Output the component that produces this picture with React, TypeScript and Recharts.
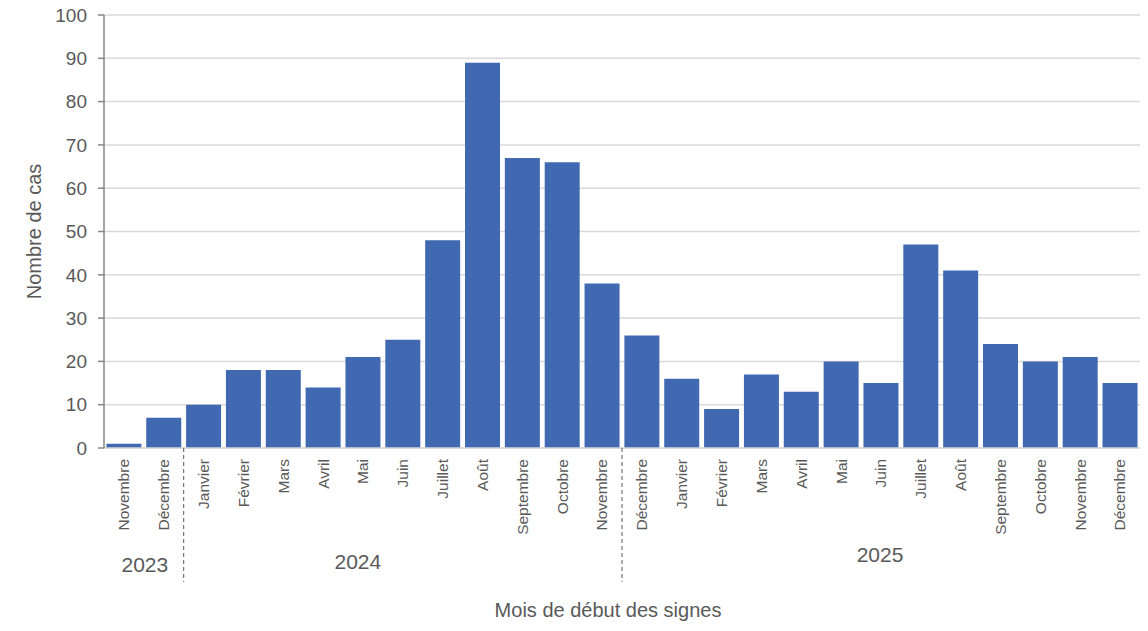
import React from "react";
import {
  BarChart,
  Bar,
  XAxis,
  YAxis,
  CartesianGrid,
  Label,
} from "recharts";

const mois = [
  "Novembre", "Décembre",
  "Janvier", "Février", "Mars", "Avril", "Mai", "Juin", "Juillet", "Août",
  "Septembre", "Octobre", "Novembre",
  "Décembre", "Janvier", "Février", "Mars", "Avril", "Mai", "Juin", "Juillet",
  "Août", "Septembre", "Octobre", "Novembre", "Décembre",
];

const annees = [
  "2023", "2023",
  "2024", "2024", "2024", "2024", "2024", "2024", "2024", "2024", "2024", "2024", "2024",
  "2025", "2025", "2025", "2025", "2025", "2025", "2025", "2025", "2025", "2025", "2025", "2025", "2025",
];

const cas = [1, 7, 10, 18, 18, 14, 21, 25, 48, 89, 67, 66, 38, 26, 16, 9, 17, 13, 20, 15, 47, 41, 24, 20, 21, 15];

const ticksY = [0, 10, 20, 30, 40, 50, 60, 70, 80, 90, 100];

const data = mois.map((m, i) => ({ cle: `${m}-${i}`, mois: m, annee: annees[i], cas: cas[i] }));

// groupes d'années : premier index + nombre de mois
const groupes: Record<number, { annee: string; n: number }> = {};
annees.forEach((a, i) => {
  if (i === 0 || annees[i - 1] !== a) groupes[i] = { annee: a, n: 0 };
});
Object.keys(groupes).forEach((k) => {
  const start = Number(k);
  groupes[start].n = annees.filter((a) => a === groupes[start].annee).length;
});

// petits décalages de l'étiquette d'année (comme dans l'original)
const decalageAnnee: Record<string, { dx: number; dy: number }> = {
  "2023": { dx: 1, dy: 0 },
  "2024": { dx: -45, dy: -3 },
  "2025": { dx: -1, dy: -10 },
};

const W = 1148;
const H = 631;
const GRIS = "#595959";
const FONT = "'Liberation Sans', Arial, sans-serif";
const PLOT_LEFT = 104;
const PLOT_RIGHT = 8;

const TickMois = (props: any) => {
  const { x, y, index, payload } = props;
  const step =
    payload && payload.offset ? payload.offset * 2 : (W - PLOT_LEFT - PLOT_RIGHT) / mois.length;
  const g = groupes[index];
  const gauche = x - step / 2;
  return (
    <g>
      <text
        x={x}
        y={y + 11}
        transform={`rotate(-90, ${x}, ${y + 11})`}
        textAnchor="end"
        dy="0.35em"
        fill={GRIS}
        fontSize={15.5}
        fontFamily={FONT}
      >
        {mois[index]}
      </text>
      {g && index > 0 && (
        <line
          x1={gauche}
          x2={gauche}
          y1={y}
          y2={y + 134}
          stroke={GRIS}
          strokeDasharray="4 3"
          strokeWidth={1}
        />
      )}
      {g && (
        <text
          x={gauche + (g.n * step) / 2 + decalageAnnee[g.annee].dx}
          y={y + 124 + decalageAnnee[g.annee].dy}
          textAnchor="middle"
          fill={GRIS}
          fontSize={21}
          fontFamily={FONT}
        >
          {g.annee}
        </text>
      )}
    </g>
  );
};

export default function App() {
  return (
    <div style={{ position: "absolute", left: 0, top: 0, width: W, height: H, background: "#fff" }}>
      <BarChart
        width={W}
        height={H}
        data={data}
        margin={{ top: 15, right: PLOT_RIGHT, left: 0, bottom: 0 }}
        barCategoryGap="6%"
      >
        <CartesianGrid vertical={false} stroke="#d9d9d9" strokeWidth={1.5} />
        <XAxis
          dataKey="cle"
          height={183}
          interval={0}
          tickLine={false}
          tickSize={0}
          tickMargin={0}
          axisLine={{ stroke: "#d9d9d9", strokeWidth: 1.5 }}
          tick={<TickMois />}
        >
          <Label
            value="Mois de début des signes"
            position="insideBottom"
            offset={14}
            dx={-14}
            fill={GRIS}
            fontSize={20}
            fontFamily={FONT}
          />
        </XAxis>
        <YAxis
          width={104}
          domain={[0, 100]}
          ticks={ticksY}
          interval={0}
          tickSize={6}
          tickMargin={11}
          axisLine={{ stroke: "#868686", strokeWidth: 1.5 }}
          tickLine={{ stroke: "#868686", strokeWidth: 1.5 }}
          tick={{ fill: GRIS, fontSize: 19, fontFamily: FONT }}
        >
          <Label
            value="Nombre de cas"
            angle={-90}
            position="center"
            dx={-18}
            fill={GRIS}
            fontSize={20}
            fontFamily={FONT}
          />
        </YAxis>
        <Bar dataKey="cas" fill="#4169b1" isAnimationActive={false} />
      </BarChart>
    </div>
  );
}
